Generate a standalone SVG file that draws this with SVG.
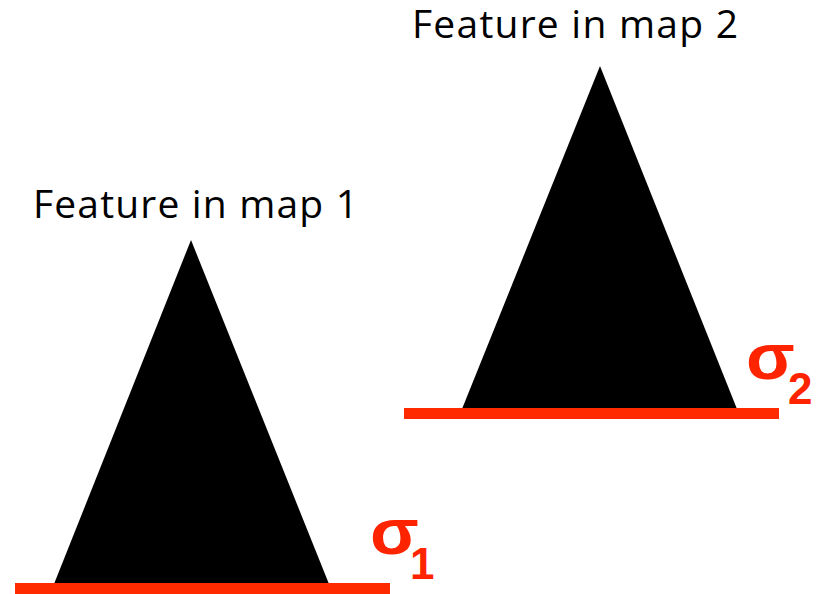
<svg xmlns="http://www.w3.org/2000/svg" width="819" height="594" viewBox="0 0 819 594">
<style>
.lbl{font-family:"Open Sans","Liberation Sans",sans-serif;font-size:39px;fill:#000}
.sig{font-family:"Liberation Sans","DejaVu Sans",sans-serif;font-weight:bold;fill:#FF2400}
.base{fill:#FF2A00}
</style>
<rect width="819" height="594" fill="#fff"/>
<g id="feature1">
<text class="lbl" x="33" y="218" textLength="325" lengthAdjust="spacing">Feature in map 1</text>
<polygon points="191,240 54,584 329,584" fill="#000"/>
<rect class="base" x="15" y="583" width="375" height="11"/>
<text class="sig" transform="translate(370,554) scale(1.15,1.05)" font-size="62">σ</text>
<text class="sig" x="410" y="579" font-size="44">1</text>
</g>
<g id="feature2">
<text class="lbl" x="412" y="38" textLength="326" lengthAdjust="spacing">Feature in map 2</text>
<polygon points="600,66 462,409 737,409" fill="#000"/>
<rect class="base" x="404" y="408" width="375" height="11"/>
<text class="sig" transform="translate(746,379) scale(1.15,1.05)" font-size="62">σ</text>
<text class="sig" x="788" y="404" font-size="44">2</text>
</g>
</svg>
